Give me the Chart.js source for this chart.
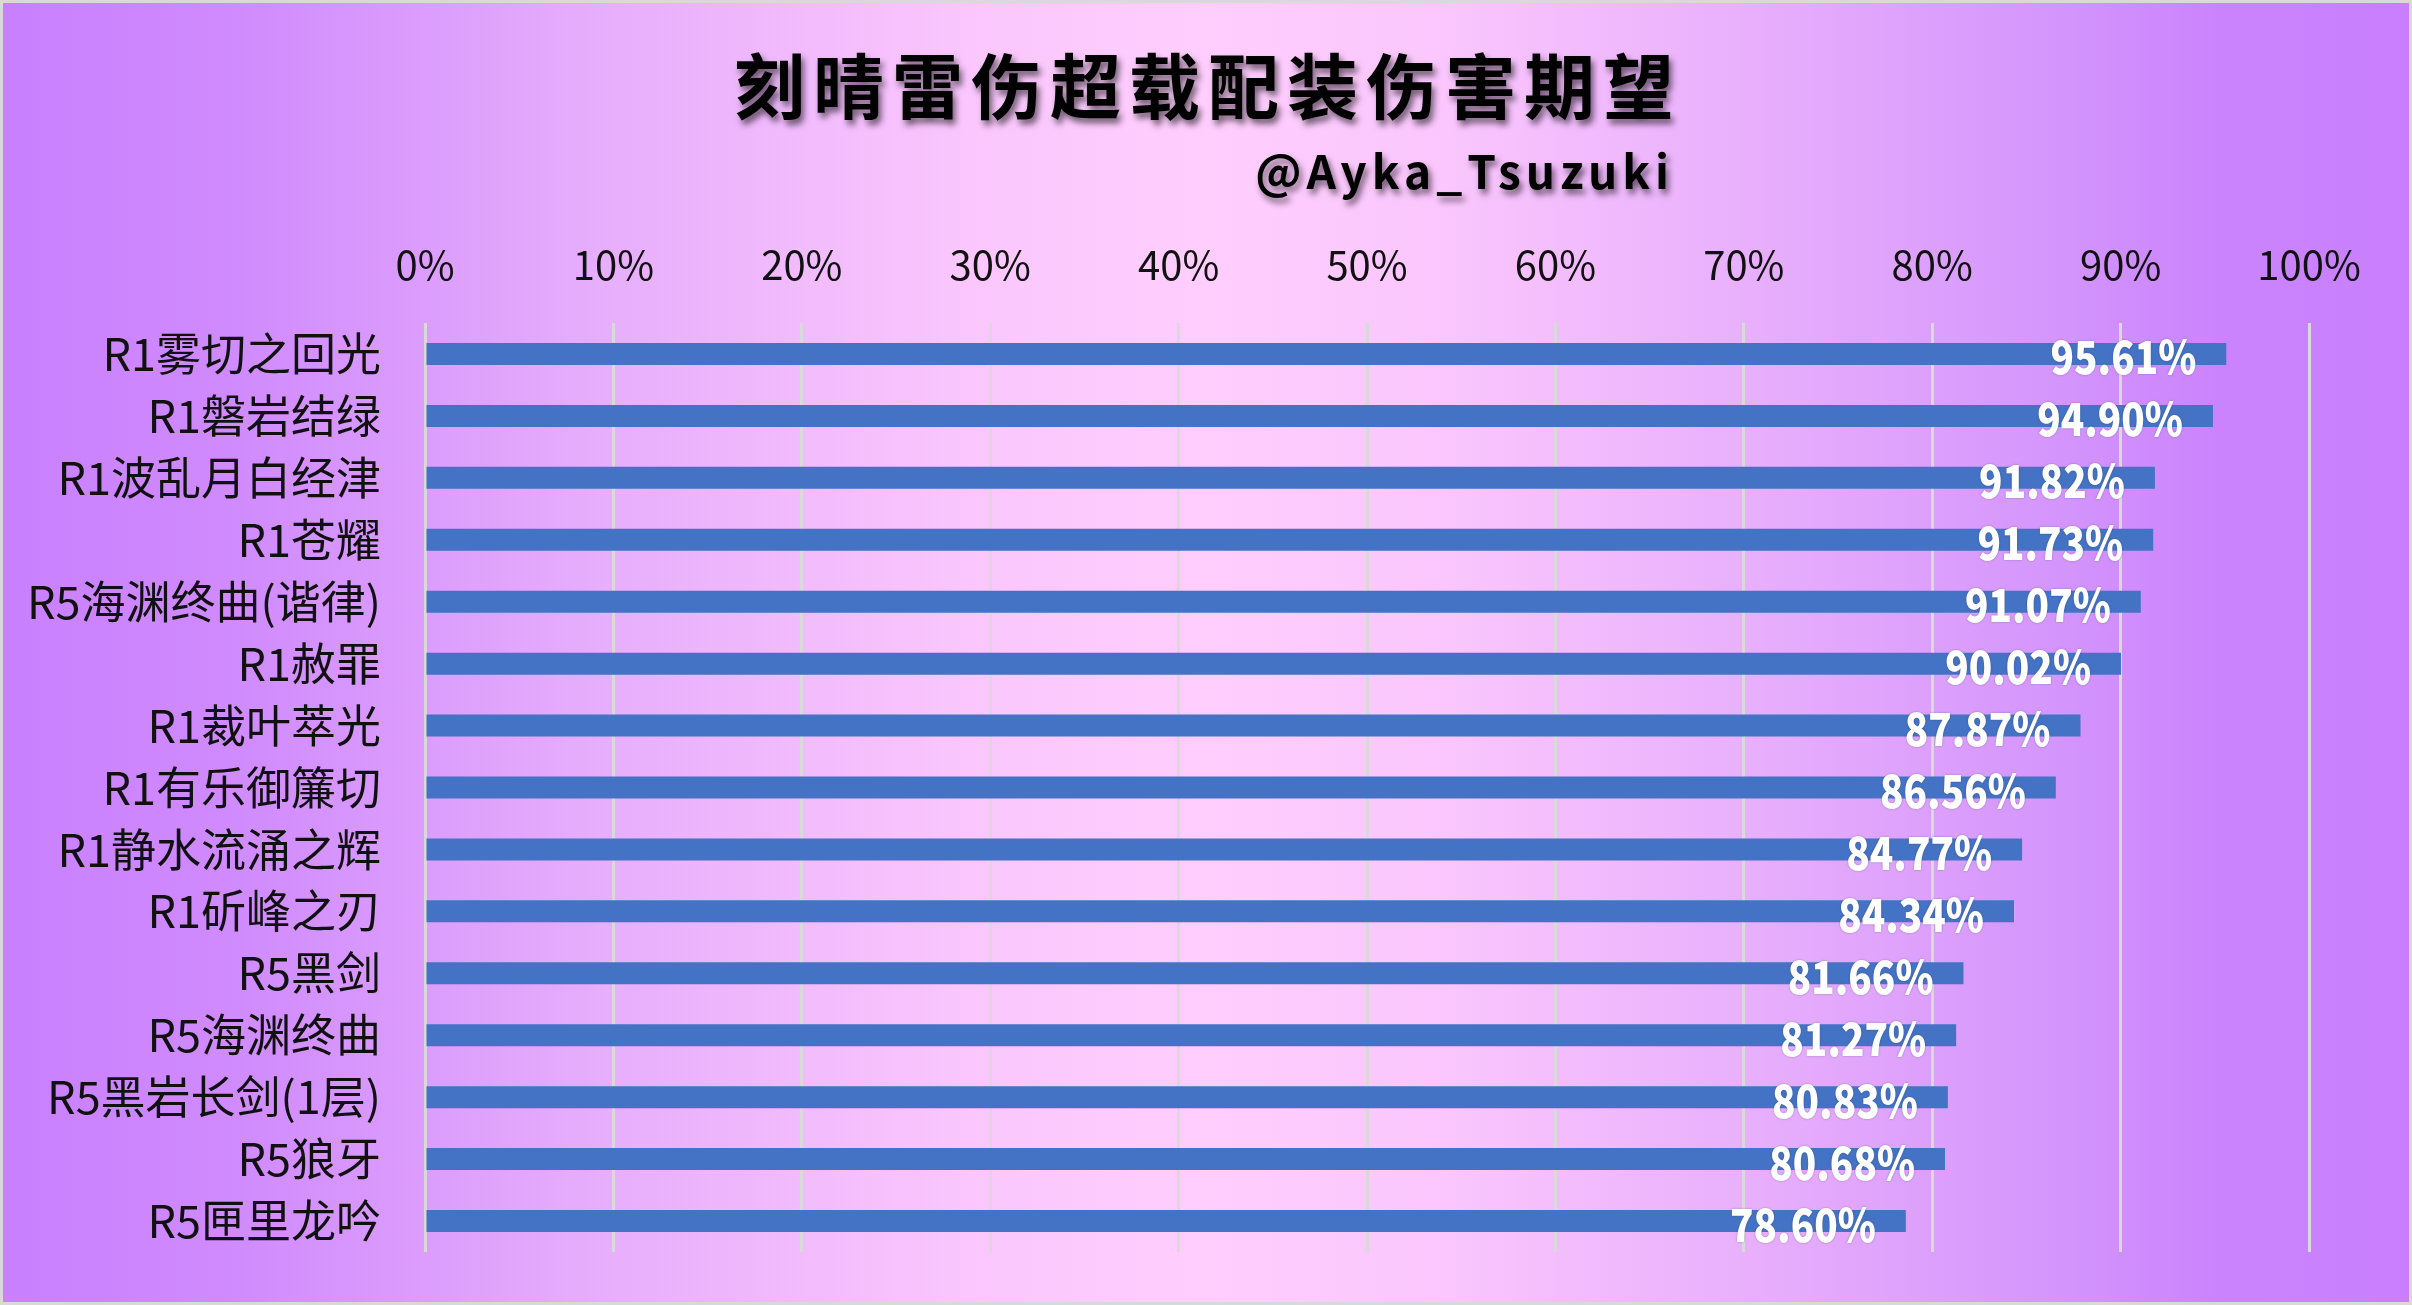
<!DOCTYPE html>
<html>
<head>
<meta charset="utf-8">
<script src="https://cdn.jsdelivr.net/npm/chart.js@4.4.1/dist/chart.umd.min.js"></script>
<style>
  html, body { margin: 0; padding: 0; background: #ffffff; }
  #wrap { width: 2412px; height: 1305px; }
</style>
</head>
<body>
<div id="wrap"><canvas id="c" width="2412" height="1305"></canvas></div>
<script>
const chartTitle = '刻晴雷伤超载配装伤害期望';
const chartSubtitle = '@Ayka_Tsuzuki';
const categories = [
  'R1雾切之回光', 'R1磐岩结绿', 'R1波乱月白经津', 'R1苍耀', 'R5海渊终曲(谐律)',
  'R1赦罪', 'R1裁叶萃光', 'R1有乐御簾切', 'R1静水流涌之辉', 'R1斫峰之刃',
  'R5黑剑', 'R5海渊终曲', 'R5黑岩长剑(1层)', 'R5狼牙', 'R5匣里龙吟'
];
const damageExpectation = [
  95.61, 94.90, 91.82, 91.73, 91.07,
  90.02, 87.87, 86.56, 84.77, 84.34,
  81.66, 81.27, 80.83, 80.68, 78.60
];
const xTicks = [0, 10, 20, 30, 40, 50, 60, 70, 80, 90, 100];

const CJK = '"Noto Sans CJK SC", "Noto Sans", sans-serif';

const backgroundPlugin = {
  id: 'bgGradient',
  beforeDraw(chart) {
    const { ctx, width, height } = chart;
    ctx.save();
    const g = ctx.createLinearGradient(0, 0, width, 0);
    g.addColorStop(0.00, '#c97ffe');
    g.addColorStop(0.10, '#d08bfd');
    g.addColorStop(0.25, '#e7aefc');
    g.addColorStop(0.40, '#fac6fd');
    g.addColorStop(0.50, '#ffcefd');
    g.addColorStop(0.60, '#fac6fd');
    g.addColorStop(0.72, '#e9b0fc');
    g.addColorStop(0.85, '#d496fc');
    g.addColorStop(0.92, '#cb83fd');
    g.addColorStop(1.00, '#c97ffd');
    ctx.fillStyle = g;
    ctx.fillRect(0, 0, width, height);
    ctx.strokeStyle = '#d9d9d9';
    ctx.lineWidth = 6;
    ctx.strokeRect(0, 0, width, height);
    ctx.restore();
  }
};

const headerPlugin = {
  id: 'headerText',
  afterDraw(chart) {
    const { ctx, width } = chart;
    ctx.save();
    ctx.shadowColor = 'rgba(0,0,0,0.55)';
    ctx.shadowOffsetX = 3;
    ctx.shadowOffsetY = 5;
    ctx.shadowBlur = 6;
    ctx.fillStyle = '#000000';
    ctx.textBaseline = 'alphabetic';
    ctx.font = 'bold 71px ' + CJK;
    if ('letterSpacing' in ctx) ctx.letterSpacing = '8px';
    ctx.textAlign = 'center';
    ctx.fillText(chartTitle, width / 2 + 2, 113);
    ctx.font = 'bold 46px ' + CJK;
    if ('letterSpacing' in ctx) ctx.letterSpacing = '5px';
    ctx.textAlign = 'right';
    ctx.fillText(chartSubtitle, 1674, 189);
    ctx.restore();
  }
};

const valueLabelPlugin = {
  id: 'valueLabels',
  afterDatasetsDraw(chart) {
    const { ctx } = chart;
    const meta = chart.getDatasetMeta(0);
    meta.data.forEach((bar, i) => {
      const v = chart.data.datasets[0].data[i];
      ctx.save();
      ctx.translate(bar.x - 30, bar.y + 3);
      ctx.scale(0.84, 1);
      ctx.font = '900 46px ' + CJK;
      ctx.fillStyle = '#ffffff';
      ctx.textAlign = 'right';
      ctx.textBaseline = 'middle';
      ctx.shadowColor = 'rgba(60,60,90,0.45)';
      ctx.shadowBlur = 2;
      ctx.fillText(v.toFixed(2) + '%', 0, 0);
      ctx.restore();
    });
  }
};

new Chart(document.getElementById('c'), {
  type: 'bar',
  data: {
    labels: categories,
    datasets: [{
      data: damageExpectation,
      backgroundColor: '#4472c4',
      borderWidth: 0,
      categoryPercentage: 1.0,
      barPercentage: 0.355
    }]
  },
  plugins: [backgroundPlugin, headerPlugin, valueLabelPlugin],
  options: {
    indexAxis: 'y',
    responsive: false,
    devicePixelRatio: 1,
    animation: false,
    layout: { padding: { top: 200, right: 103, bottom: 53, left: 0 } },
    plugins: {
      legend: { display: false },
      title: { display: false },
      tooltip: { enabled: false }
    },
    scales: {
      x: {
        position: 'top',
        min: 0,
        max: 100,
        afterBuildTicks(scale) {
          scale.ticks = xTicks.map(v => ({ value: v }));
        },
        afterFit(scale) { scale.height = 123; },
        grid: { color: '#d9d9d9', lineWidth: 3, drawTicks: false },
        border: { display: false },
        ticks: {
          padding: 34,
          color: '#111111',
          font: { family: CJK, size: 40 },
          callback: v => v + '%'
        }
      },
      y: {
        afterFit(scale) {
          scale.width = 425;
          scale.paddingTop = 0;
          scale.paddingBottom = 0;
        },
        grid: { display: false, drawTicks: false },
        border: { display: false },
        ticks: {
          padding: 44,
          color: '#111111',
          autoSkip: false,
          font: { family: CJK, size: 45 }
        }
      }
    }
  }
});
</script>
</body>
</html>
